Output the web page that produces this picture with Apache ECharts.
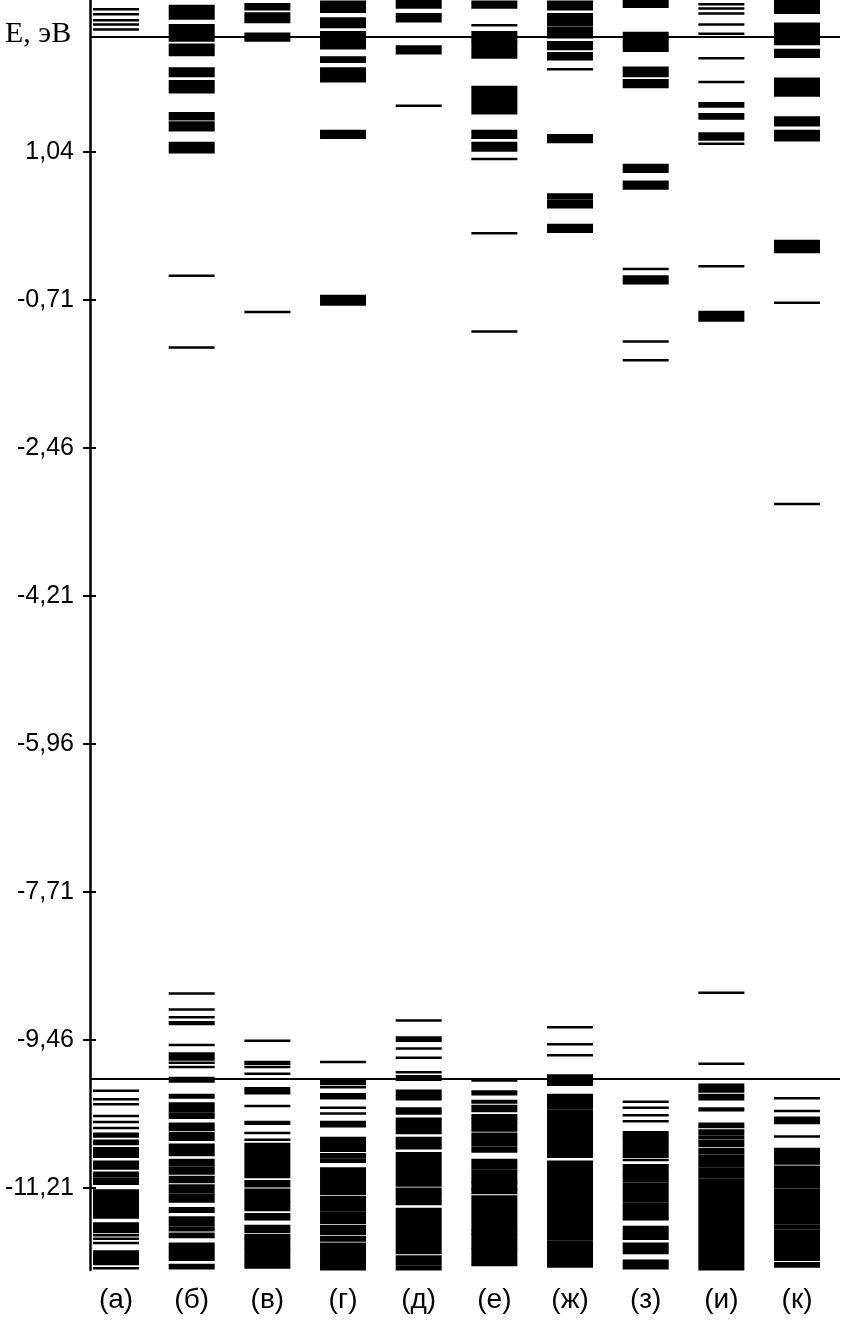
<!DOCTYPE html>
<html>
<head>
<meta charset="utf-8">
<title>Энергетические уровни</title>
<script src="https://cdn.jsdelivr.net/npm/echarts@6/dist/echarts.min.js"></script>
<style>
  html, body { margin: 0; background: #fff; }
  #chart { width: 844px; height: 1320px; }
</style>
</head>
<body>
<div id="chart"></div>
<script>
  // подписи столбцов
  const columns = ['(а)', '(б)', '(в)', '(г)', '(д)', '(е)', '(ж)', '(з)', '(и)', '(к)']
  // уровни, эВ: число - одиночный уровень, [верх, низ] - плотная полоса
  const levelsA = [2.73, 2.67, 2.60, 2.55, 2.49,
    -10.06, -10.16, -10.22, -10.36, -10.43, -10.50, [-10.57, -10.60], [-10.65, -10.69], [-10.74, -10.84],
    [-10.90, -10.98], [-11.03, -11.07], [-11.10, -11.16], [-11.24, -11.33], [-11.35, -11.45], [-11.47, -11.56],
    [-11.63, -11.73], -11.77, -11.81, -11.86, [-11.96, -12.00], [-12.03, -12.11], -12.16]
  const levelsB = [[2.77, 2.62], [2.54, 2.36], [2.31, 2.19], [2.03, 1.94], [1.88, 1.75], [1.50, 1.43],
    [1.39, 1.30], [1.15, 1.04], -0.42, -1.27,
    -8.91, -9.10, -9.19, [-9.25, -9.27], -9.52, [-9.62, -9.69], -9.73, -9.78, [-9.91, -9.95], [-10.11, -10.14],
    [-10.21, -10.30], [-10.33, -10.38], [-10.45, -10.52], [-10.56, -10.64], [-10.70, -10.82], [-10.88, -10.94],
    [-10.97, -11.04], [-11.08, -11.14], [-11.18, -11.26], [-11.29, -11.37], [-11.45, -11.49], [-11.56, -11.65],
    [-11.68, -11.71], [-11.75, -11.79], [-11.87, -12.06], [-12.12, -12.16]]
  const levelsC = [[2.79, 2.73], [2.68, 2.58], [2.44, 2.36], -0.85,
    -9.47, [-9.72, -9.74], -9.78, -9.86, [-10.03, -10.06], -10.09, -10.24, [-10.43, -10.45], -10.56, -10.64,
    [-10.69, -10.84], [-10.87, -11.08], [-11.13, -11.19], [-11.23, -11.29], [-11.32, -11.37], [-11.39, -11.47],
    [-11.52, -11.58], [-11.66, -11.73], [-11.77, -11.79], [-11.81, -11.92], [-11.94, -12.15]]
  const levelsD = [[2.82, 2.70], [2.62, 2.52], [2.46, 2.27], [2.16, 2.11], [2.03, 1.88], [1.29, 1.21], [-0.66, -0.76],
    -9.72, [-9.93, -9.98], -10.02, [-10.10, -10.15], -10.26, -10.33, [-10.43, -10.48], [-10.62, -10.77],
    [-10.81, -10.85], [-10.88, -10.90], [-10.98, -11.03], [-11.06, -11.28], [-11.32, -11.35], [-11.37, -11.47],
    [-11.50, -11.62], [-11.66, -11.69], [-11.71, -11.75], [-11.79, -11.83], [-11.87, -12.17]]
  const levelsE = [[2.83, 2.75], [2.67, 2.59], [2.29, 2.24], 2.21, 1.59,
    -9.23, [-9.43, -9.47], -9.56, -9.67, -9.84, [-9.89, -9.93], [-10.06, -10.16], [-10.27, -10.33], [-10.39, -10.56],
    [-10.62, -10.74], [-10.80, -10.97], [-11.00, -11.18], [-11.22, -11.27], [-11.29, -11.40], [-11.46, -11.98],
    [-12.02, -12.11], [-12.14, -12.17]]
  const levelsF = [[2.82, 2.75], 2.54, [2.46, 2.36], [2.34, 2.16], [1.81, 1.50], [1.29, 1.21], [1.15, 1.06], 0.96, 0.08, -1.08,
    -9.94, [-10.07, -10.10], [-10.18, -10.20], [-10.24, -10.30], [-10.35, -10.38], [-10.40, -10.43], [-10.45, -10.53],
    [-10.57, -10.70], [-10.73, -10.78], [-10.88, -10.98], [-11.01, -11.14], [-11.15, -11.22], [-11.23, -11.27],
    [-11.31, -11.49], [-11.52, -11.70], [-11.72, -11.75], [-11.77, -11.92], [-11.94, -12.12]]
  const levelsG = [[2.82, 2.73], [2.67, 2.54], [2.51, 2.40], [2.34, 2.26], [2.21, 2.14], 2.02, [1.24, 1.16],
    [0.54, 0.50], [0.47, 0.39], [0.18, 0.10],
    -9.31, -9.51, -9.64, [-9.88, -9.99], [-10.11, -10.27], [-10.30, -10.32], [-10.35, -10.38], [-10.40, -10.68],
    [-10.70, -10.84], [-10.90, -11.82], [-11.85, -12.14]]
  const levelsH = [[2.83, 2.76], [2.45, 2.24], [2.04, 1.94], [1.89, 1.81], [0.89, 0.81], [0.69, 0.61], -0.34,
    [-0.43, -0.51], -1.20, -1.42,
    -10.19, -10.26, -10.35, -10.42, [-10.55, -10.62], [-10.64, -10.71], [-10.74, -10.84], -10.88, [-10.94, -11.03],
    [-11.05, -11.13], [-11.16, -11.37], [-11.40, -11.56], -11.58, [-11.67, -11.79], -11.81, [-11.87, -11.98],
    [-12.07, -12.16]]
  const levelsI = [2.79, 2.74, 2.68, 2.55, 2.44, 2.15, 1.87, [1.62, 1.58], [1.49, 1.44], [1.26, 1.19], 1.14, -0.31,
    [-0.85, -0.95],
    -8.90, -9.74, [-9.99, -10.07], [-10.11, -10.16], [-10.27, -10.29], [-10.45, -10.49], [-10.53, -10.57],
    [-10.60, -10.62], [-10.65, -10.71], [-10.75, -10.80], [-10.83, -10.95], [-10.98, -11.08], [-11.11, -12.17]]
  const levelsJ = [[2.83, 2.69], [2.56, 2.32], [2.25, 2.17], [1.91, 1.71], [1.45, 1.36], [1.29, 1.18], [-0.01, -0.14],
    -0.74, -3.12,
    -10.15, -10.30, -10.38, [-10.41, -10.44], -10.60, [-10.75, -10.92], [-10.96, -11.20], [-11.23, -11.63],
    [-11.66, -11.69], [-11.72, -12.06], [-12.10, -12.14]]
  // деления оси энергии
  const tickValues = [1.04, -0.71, -2.46, -4.21, -5.96, -7.71, -9.46, -11.21]
  // сплошные горизонтальные линии через весь рисунок
  const refLevels = [2.40, -9.92]

  const allLevels = [levelsA, levelsB, levelsC, levelsD, levelsE, levelsF, levelsG, levelsH, levelsI, levelsJ]
  const data = []
  allLevels.forEach((list, i) => {
    list.forEach(v => {
      const hi = Array.isArray(v) ? v[0] : v
      const lo = Array.isArray(v) ? v[1] : v
      data.push([i, hi, lo])
    })
  })

  function renderLevel(params, api) {
    const top = api.coord([api.value(0), api.value(1)])
    const bottom = api.coord([api.value(0), api.value(2)])
    const h = bottom[1] - top[1] + 2.5
    return {
      type: 'rect',
      shape: { x: top[0] - 23, y: top[1] - 1.25, width: 46, height: h },
      style: { fill: '#000' }
    }
  }

  const chart = echarts.init(document.getElementById('chart'))
  chart.setOption({
    animation: false,
    backgroundColor: '#fff',
    title: {
      text: 'E, эВ',
      left: 0,
      top: 14,
      textStyle: { fontFamily: 'Liberation Serif', fontSize: 30, fontWeight: 'normal', color: '#000' }
    },
    grid: { left: 90, right: 4, top: 0, bottom: 50 },
    xAxis: {
      type: 'value',
      min: -0.344,
      max: 9.568,
      axisLine: { show: false },
      axisTick: { show: false },
      splitLine: { show: false },
      axisLabel: {
        customValues: columns.map((c, i) => i),
        formatter: v => columns[Math.round(v)],
        margin: 16,
        color: '#000',
        fontFamily: 'Liberation Sans',
        fontSize: 28
      }
    },
    yAxis: [{
      type: 'value',
      min: -12.18,
      max: 2.84,
      splitLine: { show: false },
      axisLine: { show: true, onZero: false, lineStyle: { color: '#000', width: 2.5 } },
      axisTick: { show: true, customValues: tickValues, length: 7, lineStyle: { color: '#000', width: 2 } },
      axisLabel: {
        customValues: tickValues,
        formatter: v => v.toFixed(2).replace('.', ','),
        margin: 16,
        color: '#000',
        fontFamily: 'Liberation Sans',
        fontSize: 25
      }
    }, {
      // вторая половина засечек, внутрь от оси
      type: 'value',
      position: 'left',
      min: -12.18,
      max: 2.84,
      splitLine: { show: false },
      axisLine: { show: false, onZero: false },
      axisLabel: { show: false },
      axisTick: { show: true, inside: true, customValues: tickValues, length: 6, lineStyle: { color: '#000', width: 2 } }
    }],
    series: [{
      type: 'custom',
      renderItem: renderLevel,
      encode: { x: 0, y: [1, 2] },
      data: data,
      markLine: {
        silent: true,
        symbol: 'none',
        label: { show: false },
        lineStyle: { color: '#000', width: 2, type: 'solid' },
        data: refLevels.map(v => ({ yAxis: v }))
      }
    }]
  })
</script>
</body>
</html>
